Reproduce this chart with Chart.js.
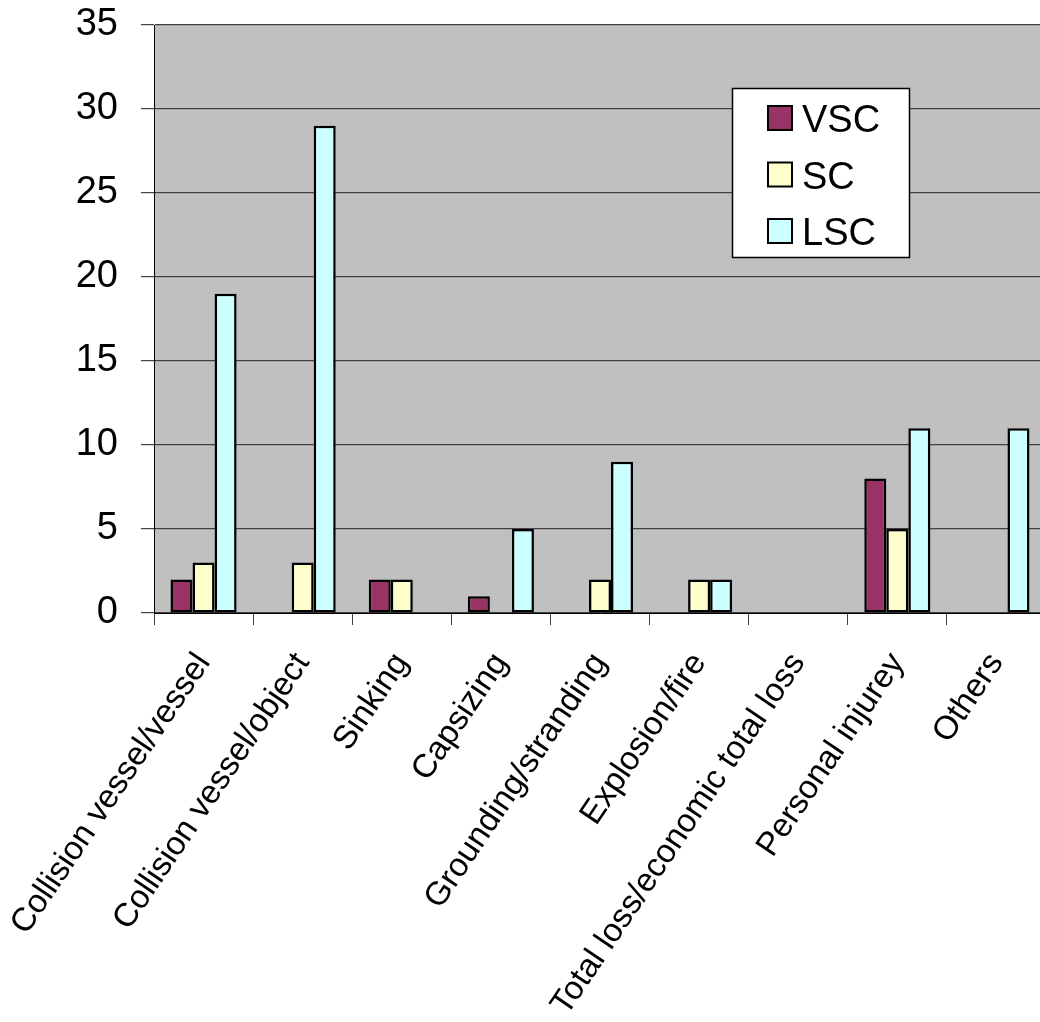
<!DOCTYPE html>
<html>
<head>
<meta charset="utf-8">
<script src="https://cdn.jsdelivr.net/npm/chart.js@4"></script>
<style>
  html, body { margin: 0; padding: 0; background: #ffffff; overflow: hidden; }
  #wrap { width: 1046px; height: 1022px; position: relative; }
</style>
</head>
<body>
<div id="wrap"><canvas id="chart"></canvas></div>
<script>
// Accident types and counts per ship category
const categories = [
  'Collision vessel/vessel',
  'Collision vessel/object',
  'Sinking',
  'Capsizing',
  'Grounding/stranding',
  'Explosion/fire',
  'Total loss/economic total loss',
  'Personal injurey',
  'Others'
];
const seriesNames = ['VSC', 'SC', 'LSC'];
const vscValues = [2, null, 2, 1, null, null, null, 8, null];
const scValues  = [3, 3, 2, null, 2, 2, null, 5, null];
const lscValues = [19, 29, null, 5, 9, 2, null, 11, 11];
const yMin = 0, yMax = 35, yStep = 5;

const FONT = '"Liberation Sans", Arial, Helvetica, sans-serif';

// Grey plot background behind gridlines and bars
const plotBackground = {
  id: 'plotBackground',
  beforeDraw(chart) {
    const { ctx, chartArea: a } = chart;
    ctx.save();
    ctx.fillStyle = '#c0c0c0';
    ctx.fillRect(a.left, a.top, a.right - a.left, a.bottom - a.top);
    ctx.restore();
  }
};

// Boxed legend floating inside the plot area
const boxLegend = {
  id: 'boxLegend',
  afterDraw(chart) {
    const { ctx, chartArea: a } = chart;
    const L = a.left + 578, T = a.top + 63, W = 178, H = 170;
    ctx.save();
    ctx.fillStyle = '#ffffff';
    ctx.fillRect(L, T, W, H);
    ctx.strokeStyle = '#000000';
    ctx.lineWidth = 1.5;
    ctx.strokeRect(L + 0.5, T + 0.5, W - 1, H - 1);
    ctx.font = '38px ' + FONT;
    ctx.textBaseline = 'alphabetic';
    ctx.textAlign = 'left';
    chart.data.datasets.forEach((ds, i) => {
      const cy = T + 30 + i * 56.5;
      ctx.fillStyle = ds.backgroundColor;
      ctx.fillRect(L + 36, cy - 12, 24, 24);
      ctx.lineWidth = 2;
      ctx.strokeStyle = '#000000';
      ctx.strokeRect(L + 36, cy - 12, 24, 24);
      ctx.fillStyle = '#000000';
      ctx.fillText(ds.label, L + 70, cy + 14);
    });
    ctx.restore();
  }
};

const colors = ['#993366', '#ffffcc', '#ccffff'];
const seriesValues = [vscValues, scValues, lscValues];

new Chart(document.getElementById('chart'), {
  type: 'bar',
  data: {
    labels: categories,
    datasets: seriesNames.map((name, i) => ({
      label: name,
      data: seriesValues[i],
      backgroundColor: colors[i],
      borderColor: '#000000',
      borderWidth: 2.5,
      borderSkipped: false,
      barPercentage: 1.0,
      categoryPercentage: 0.667
    }))
  },
  options: {
    responsive: true,
    maintainAspectRatio: false,
    animation: false,
    layout: { padding: { top: 25, right: 0, left: 0, bottom: 0 } },
    plugins: {
      legend: { display: false },
      tooltip: { enabled: false }
    },
    scales: {
      x: {
        grid: {
          offset: true,
          drawOnChartArea: false,
          drawTicks: true,
          tickLength: 12,
          color: '#404040',
          lineWidth: 1
        },
        border: { display: true, color: '#000000', width: 1 },
        ticks: {
          autoSkip: false,
          minRotation: 56,
          maxRotation: 56,
          padding: 21,
          color: '#000000',
          font: { family: FONT, size: 33 }
        },
        afterFit(scale) {
          scale.height = 409;
          scale.paddingLeft = 0;
          scale.paddingRight = 0;
        }
      },
      y: {
        min: yMin,
        max: yMax,
        grid: {
          drawOnChartArea: true,
          drawTicks: true,
          tickLength: 13,
          color: '#404040',
          lineWidth: 1.2
        },
        border: { display: true, color: '#000000', width: 1 },
        ticks: {
          stepSize: yStep,
          padding: 23,
          color: '#000000',
          font: { family: FONT, size: 38 }
        },
        afterFit(scale) {
          scale.width = 154;
          scale.paddingTop = 0;
          scale.paddingBottom = 0;
        }
      }
    }
  },
  plugins: [plotBackground, boxLegend]
});
</script>
</body>
</html>
